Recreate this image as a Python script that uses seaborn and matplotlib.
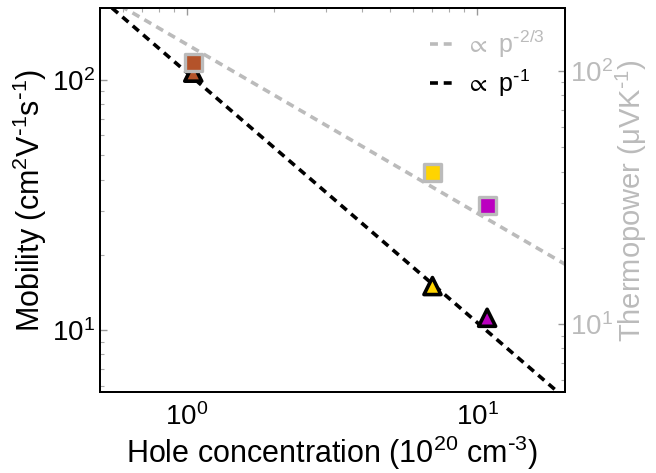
import numpy as np
import pandas as pd
import matplotlib
matplotlib.use("Agg")
import matplotlib.pyplot as plt
import seaborn as sns
from matplotlib.lines import Line2D

# ---- data ----
hole_conc = [1.05, 7.0, 10.8]            # 1e20 cm^-3
mobility = [107, 15, 11.2]                # cm^2 V^-1 s^-1
thermopower = [108, 39.5, 29.3]           # uV/K
sample_colors = ["#B4532A", "#FFD400", "#BB00C0"]
fit_p = [0.5, 20.0]
mob_coef = 107.0      # mobility ∝ p^-1
seeb_coef = 127.0     # thermopower ∝ p^-2/3
legend_labels = [r"$\propto$ p$^{\text{-}2/3}$", r"$\propto$ p$^{\text{-}1}$"]

sns.set_style("white")
plt.rcParams["font.family"] = ["Liberation Sans", "DejaVu Sans"]
plt.rcParams["mathtext.default"] = "regular"
for k in ("text.color", "axes.labelcolor", "xtick.color", "ytick.color"):
    plt.rcParams[k] = "black"

gray = "#BBBBBB"

fig = plt.figure(figsize=(6.56, 4.73), dpi=100)
ax = fig.add_axes([0.152, 0.171, 0.709, 0.812])
ax2 = ax.twinx()

fp = np.array(fit_p)
df_mob_fit = pd.DataFrame({"p": fp, "v": mob_coef * fp ** -1.0})
df_seeb_fit = pd.DataFrame({"p": fp, "v": seeb_coef * fp ** (-2.0 / 3.0)})
df = pd.DataFrame({"p": hole_conc, "mu": mobility, "S": thermopower,
                   "c": sample_colors})
pal = dict(zip(sample_colors, sample_colors))
dash = (0, (2.2, 1.6))

sns.lineplot(data=df_mob_fit, x="p", y="v", ax=ax, color="black",
             linestyle=dash, linewidth=2.6, zorder=2, legend=False)
sns.scatterplot(data=df, x="p", y="mu", ax=ax, hue="c", palette=pal,
                marker="^", s=150, edgecolor="black", linewidth=2.6, zorder=3, legend=False)

sns.lineplot(data=df_seeb_fit, x="p", y="v", ax=ax2, color=gray,
             linestyle=dash, linewidth=2.6, zorder=2, legend=False)
sns.scatterplot(data=df, x="p", y="S", ax=ax2, hue="c", palette=pal,
                marker="s", s=150, edgecolor=gray, linewidth=2.4, zorder=3, legend=False)

for a in (ax, ax2):
    a.set_xscale("log")
    a.set_yscale("log")
ax.set_xlim(0.5, 20)
ax.set_ylim(5.65, 194)
ax2.set_ylim(5.38, 177)

ax.set_xlabel(r"Hole concentration (10$^{20}$ cm$^{\text{-}3}$)", fontsize=22, labelpad=2)
ax.set_ylabel(r"Mobility (cm$^{2}$V$^{\text{-}1}$s$^{\text{-}1}$)", fontsize=22, labelpad=2)
ax2.set_ylabel("Thermopower (\u03bcVK$^{\\text{-}1}$)", fontsize=21, color=gray, labelpad=1)

ax.tick_params(axis="both", which="major", direction="in", length=5, width=1,
               color="#999999", labelsize=20, labelcolor="black", top=True)
ax.tick_params(axis="both", which="minor", direction="in", length=3, width=0.8,
               color="#AAAAAA", top=True)
ax.tick_params(axis="x", pad=8)
ax2.tick_params(axis="y", which="major", direction="in", length=5, width=1,
                color="#999999", labelsize=20, labelcolor=gray)
ax2.tick_params(axis="y", which="minor", direction="in", length=3, width=0.8,
                color="#AAAAAA")

for a in (ax, ax2):
    for sp in a.spines.values():
        sp.set_color("black")
        sp.set_linewidth(1.4)
        sp.set_visible(True)

handles = [Line2D([], [], color=gray, linestyle=dash, linewidth=2.6),
           Line2D([], [], color="black", linestyle=dash, linewidth=2.6)]
leg = ax2.legend(handles, legend_labels, loc="upper right", frameon=False,
                 fontsize=18, handlelength=1.0, handletextpad=0.4,
                 borderaxespad=0.4, labelspacing=0.3)
for t, c in zip(leg.get_texts(), [gray, "black"]):
    t.set_color(c)

fig.savefig("out.png", dpi=100)
